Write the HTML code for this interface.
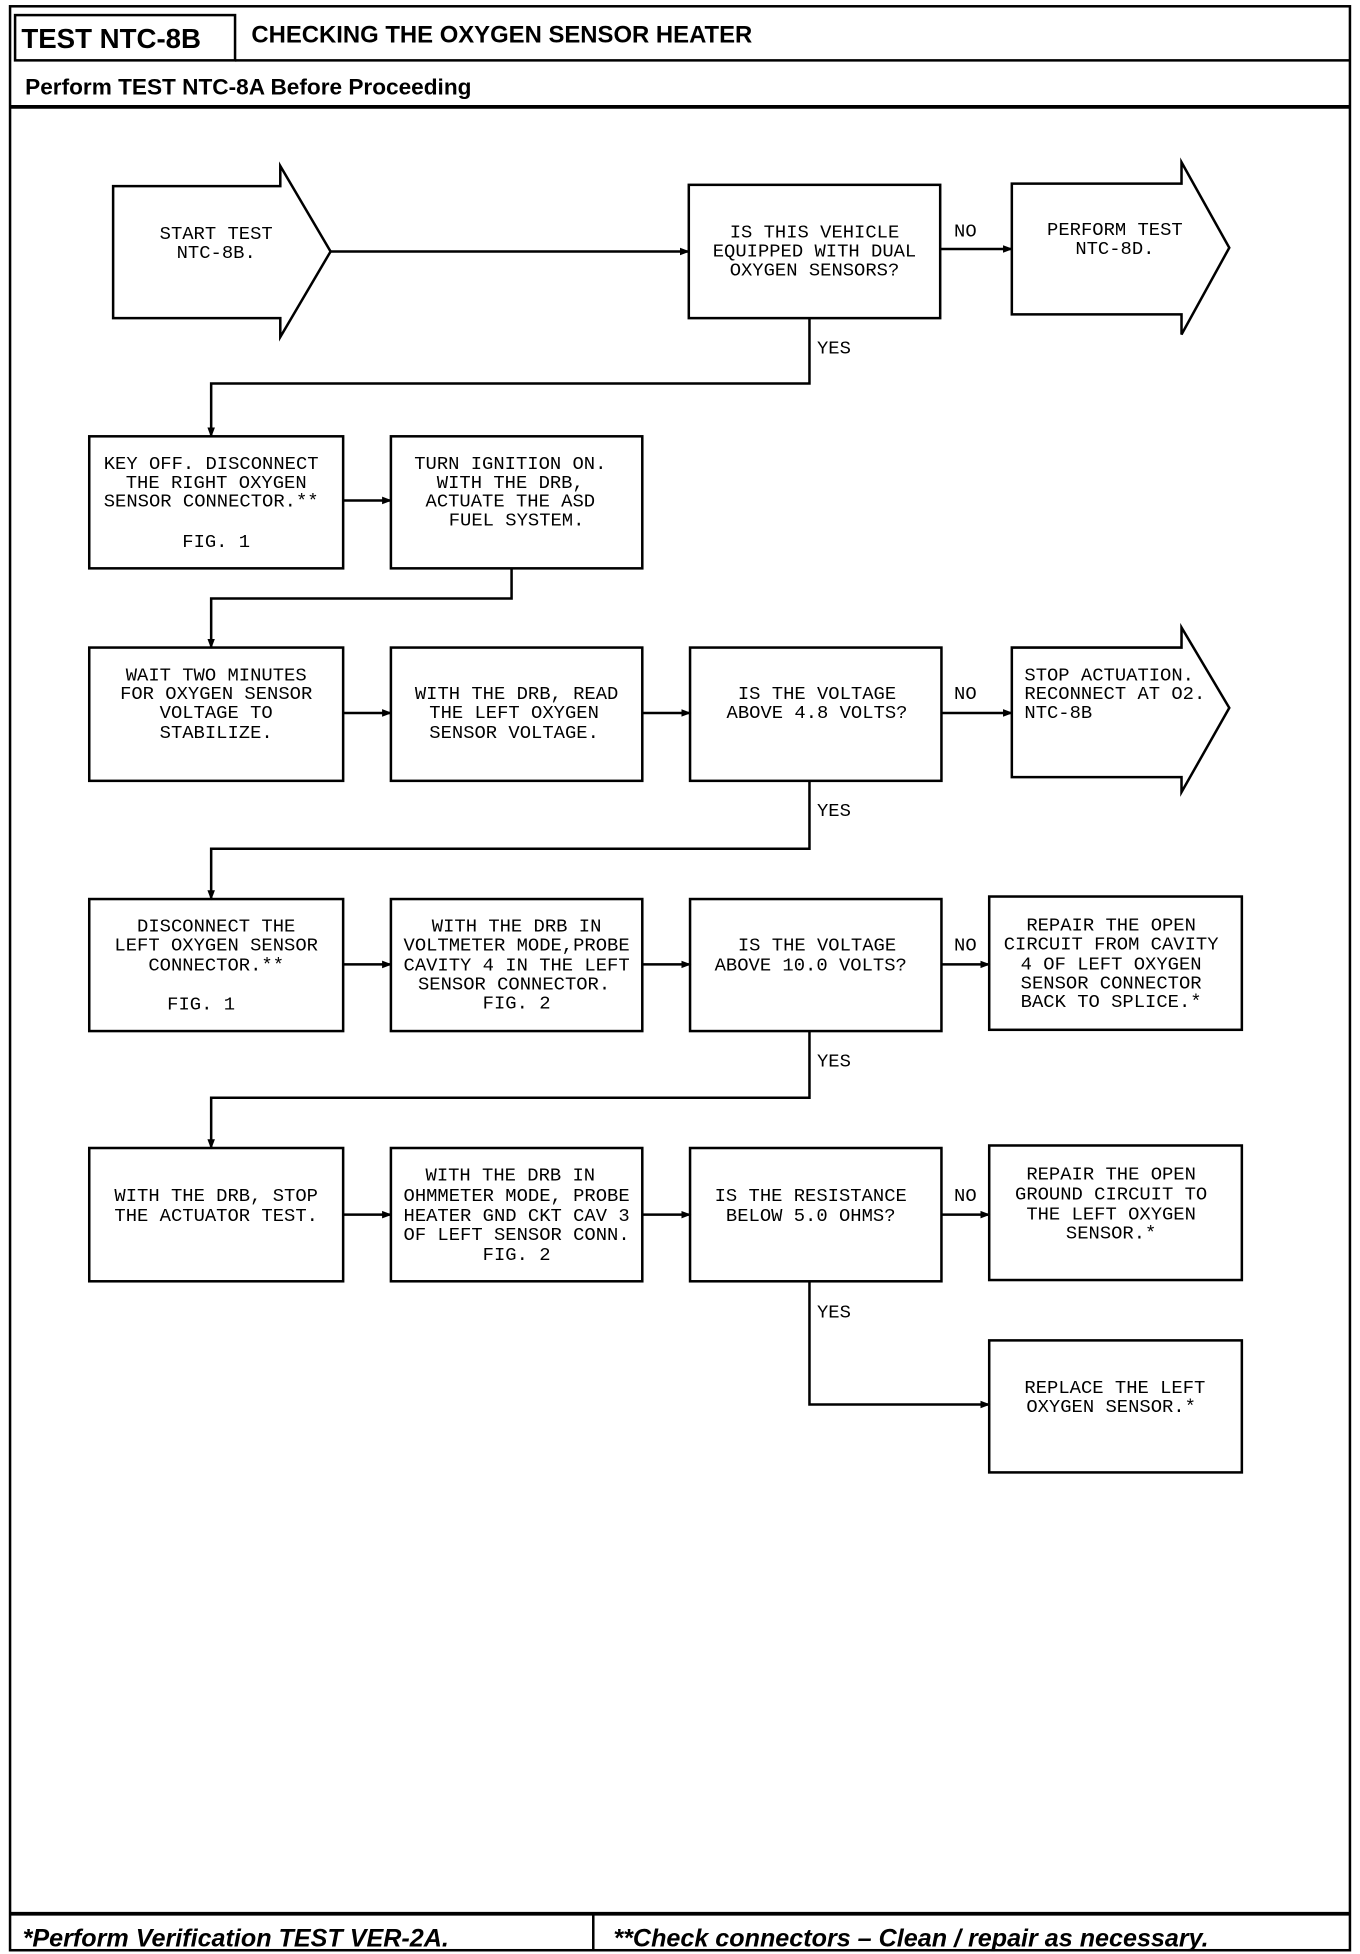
<!DOCTYPE html>
<html><head><meta charset="utf-8"><style>
html,body{margin:0;padding:0;background:#fff;}
svg{display:block;}
.t{font-family:"Liberation Mono",monospace;font-size:15px;fill:#000;text-anchor:middle;}
.l{text-anchor:start;}
.h{font-family:"Liberation Sans",sans-serif;font-weight:bold;fill:#000;}
</style></head><body>
<svg width="1360" height="1954" viewBox="0 0 1082 1554" preserveAspectRatio="none" xmlns="http://www.w3.org/2000/svg">
<defs><marker id="a" markerWidth="8" markerHeight="8" refX="7" refY="4" orient="auto" markerUnits="userSpaceOnUse"><path d="M0,1 L8,4 L0,7 z" fill="#000"/></marker></defs>
<g fill="none" stroke="#000" stroke-width="2">
<rect x="8" y="5" width="1066" height="1546"/>
<rect x="12" y="12" width="175" height="36"/>
<line x1="187" y1="48" x2="1074" y2="48"/>
<line x1="8" y1="85" x2="1074" y2="85" stroke-width="3"/>
<line x1="8" y1="1522" x2="1074" y2="1522" stroke-width="3"/>
<line x1="472" y1="1522" x2="472" y2="1551"/>
<!-- start arrow -->
<path d="M90,148 L223,148 L223,132 L263,200 L223,268 L223,253 L90,253 Z"/>
<rect x="548" y="147" width="200" height="106"/>
<path d="M805,146 L940,146 L940,129 L978,197 L940,266 L940,250 L805,250 Z"/>
<rect x="71" y="347" width="202" height="105"/>
<rect x="311" y="347" width="200" height="105"/>
<rect x="71" y="515" width="202" height="106"/>
<rect x="311" y="515" width="200" height="106"/>
<rect x="549" y="515" width="200" height="106"/>
<path d="M805,515 L940,515 L940,499 L978,563 L940,630 L940,618 L805,618 Z"/>
<rect x="71" y="715" width="202" height="105"/>
<rect x="311" y="715" width="200" height="105"/>
<rect x="549" y="715" width="200" height="105"/>
<rect x="787" y="713" width="201" height="106"/>
<rect x="71" y="913" width="202" height="106"/>
<rect x="311" y="913" width="200" height="106"/>
<rect x="549" y="913" width="200" height="106"/>
<rect x="787" y="911" width="201" height="107"/>
<rect x="787" y="1066" width="201" height="105"/>
</g>
<g fill="none" stroke="#000" stroke-width="2" marker-end="url(#a)">
<line x1="263" y1="200" x2="548" y2="200"/>
<line x1="748" y1="198" x2="805" y2="198"/>
<path d="M644,253 L644,305 L168,305 L168,347"/>
<line x1="273" y1="398" x2="311" y2="398"/>
<path d="M407,452 L407,476 L168,476 L168,515"/>
<line x1="273" y1="567" x2="311" y2="567"/>
<line x1="511" y1="567" x2="549" y2="567"/>
<line x1="749" y1="567" x2="805" y2="567"/>
<path d="M644,621 L644,675 L168,675 L168,715"/>
<line x1="273" y1="767" x2="311" y2="767"/>
<line x1="511" y1="767" x2="549" y2="767"/>
<line x1="749" y1="767" x2="787" y2="767"/>
<path d="M644,820 L644,873 L168,873 L168,913"/>
<line x1="273" y1="966" x2="311" y2="966"/>
<line x1="511" y1="966" x2="549" y2="966"/>
<line x1="749" y1="966" x2="787" y2="966"/>
<path d="M644,1019 L644,1117 L787,1117"/>
</g>
<text class="h" x="17" y="38" font-size="22">TEST NTC-8B</text>
<text class="h" x="200" y="34" font-size="19">CHECKING THE OXYGEN SENSOR HEATER</text>
<text class="h" x="20" y="75" font-size="18">Perform TEST NTC-8A Before Proceeding</text>
<text class="h" x="18" y="1548" font-size="20" font-style="italic">*Perform Verification TEST VER-2A.</text>
<text class="h" x="488" y="1548" font-size="20" font-style="italic">**Check connectors – Clean / repair as necessary.</text>
<g class="t">
<text class="t" x="172" y="190">START TEST</text><text class="t" x="172" y="205">NTC-8B.</text>
<text class="t" x="648" y="189">IS THIS VEHICLE</text><text class="t" x="648" y="204">EQUIPPED WITH DUAL</text><text class="t" x="648" y="219">OXYGEN SENSORS?</text>
<text class="t" x="768" y="188">NO</text>
<text class="t" x="887" y="187">PERFORM TEST</text><text class="t" x="887" y="202">NTC-8D.</text>
<text class="t l" x="650" y="281">YES</text>
<text class="t" x="168" y="373">KEY OFF. DISCONNECT</text><text class="t" x="172" y="388">THE RIGHT OXYGEN</text><text class="t" x="168" y="403">SENSOR CONNECTOR.**</text><text class="t" x="172" y="435">FIG. 1</text>
<text class="t" x="406" y="373">TURN IGNITION ON.</text><text class="t" x="406" y="388">WITH THE DRB,</text><text class="t" x="406" y="403">ACTUATE THE ASD</text><text class="t" x="411" y="418">FUEL SYSTEM.</text>
<text class="t" x="172" y="541">WAIT TWO MINUTES</text><text class="t" x="172" y="556">FOR OXYGEN SENSOR</text><text class="t" x="172" y="571">VOLTAGE TO</text><text class="t" x="172" y="587">STABILIZE.</text>
<text class="t" x="411" y="556">WITH THE DRB, READ</text><text class="t" x="409" y="571">THE LEFT OXYGEN</text><text class="t" x="409" y="587">SENSOR VOLTAGE.</text>
<text class="t" x="650" y="556">IS THE VOLTAGE</text><text class="t" x="650" y="571">ABOVE 4.8 VOLTS?</text>
<text class="t" x="768" y="556">NO</text>
<text class="t l" x="815" y="541">STOP ACTUATION.</text><text class="t l" x="815" y="556">RECONNECT AT O2.</text><text class="t l" x="815" y="571">NTC-8B</text>
<text class="t l" x="650" y="649">YES</text>
<text class="t" x="172" y="741">DISCONNECT THE</text><text class="t" x="172" y="756">LEFT OXYGEN SENSOR</text><text class="t" x="172" y="772">CONNECTOR.**</text><text class="t" x="160" y="803">FIG. 1</text>
<text class="t" x="411" y="741">WITH THE DRB IN</text><text class="t" x="411" y="756">VOLTMETER MODE,PROBE</text><text class="t" x="411" y="772">CAVITY 4 IN THE LEFT</text><text class="t" x="409" y="787">SENSOR CONNECTOR.</text><text class="t" x="411" y="802">FIG. 2</text>
<text class="t" x="650" y="756">IS THE VOLTAGE</text><text class="t" x="645" y="772">ABOVE 10.0 VOLTS?</text>
<text class="t" x="768" y="756">NO</text>
<text class="t" x="884" y="740">REPAIR THE OPEN</text><text class="t" x="884" y="755">CIRCUIT FROM CAVITY</text><text class="t" x="884" y="771">4 OF LEFT OXYGEN</text><text class="t" x="884" y="786">SENSOR CONNECTOR</text><text class="t" x="884" y="801">BACK TO SPLICE.*</text>
<text class="t l" x="650" y="848">YES</text>
<text class="t" x="172" y="955">WITH THE DRB, STOP</text><text class="t" x="172" y="971">THE ACTUATOR TEST.</text>
<text class="t" x="406" y="939">WITH THE DRB IN</text><text class="t" x="411" y="955">OHMMETER MODE, PROBE</text><text class="t" x="411" y="971">HEATER GND CKT CAV 3</text><text class="t" x="411" y="986">OF LEFT SENSOR CONN.</text><text class="t" x="411" y="1002">FIG. 2</text>
<text class="t" x="645" y="955">IS THE RESISTANCE</text><text class="t" x="645" y="971">BELOW 5.0 OHMS?</text>
<text class="t" x="768" y="955">NO</text>
<text class="t" x="884" y="938">REPAIR THE OPEN</text><text class="t" x="884" y="954">GROUND CIRCUIT TO</text><text class="t" x="884" y="970">THE LEFT OXYGEN</text><text class="t" x="884" y="985">SENSOR.*</text>
<text class="t l" x="650" y="1048">YES</text>
<text class="t" x="887" y="1108">REPLACE THE LEFT</text><text class="t" x="884" y="1123">OXYGEN SENSOR.*</text>
</g>
</svg>
</body></html>
